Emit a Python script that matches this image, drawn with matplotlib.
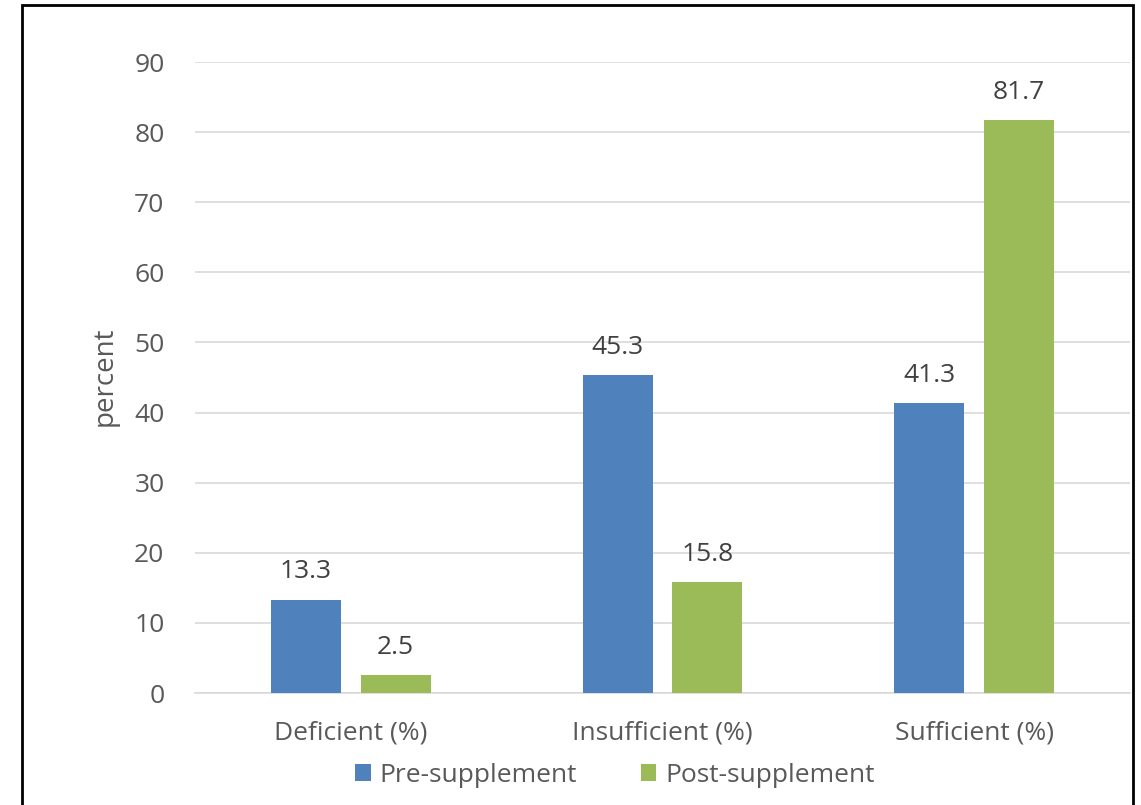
import numpy as np
import matplotlib.pyplot as plt
from matplotlib.patches import Rectangle

# Vitamin D status before and after supplementation
categories = ['Deficient (%)', 'Insufficient (%)', 'Sufficient (%)']
pre_supplement = [13.3, 45.3, 41.3]
post_supplement = [2.5, 15.8, 81.7]
series_names = ['Pre-supplement', 'Post-supplement']

blue = '#4f81bd'
green = '#9bbb59'
text_grey = '#595959'
fs = 19

plt.rcParams['font.family'] = ['Open Sans', 'DejaVu Sans']

fig = plt.figure(figsize=(11.41, 8.05), dpi=100)
ax = fig.add_axes([195 / 1141, 1 - 693 / 805, 935 / 1141, 631 / 805])

x = np.arange(len(categories))
width = 0.224
gap = 0.064
b1 = ax.bar(x - (width + gap) / 2, pre_supplement, width, color=blue, label=series_names[0], zorder=3)
b2 = ax.bar(x + (width + gap) / 2, post_supplement, width, color=green, label=series_names[1], zorder=3)

for bars, vals in [(b1, pre_supplement), (b2, post_supplement)]:
    for rect, v in zip(bars, vals):
        ax.text(rect.get_x() + rect.get_width() / 2, v + 2.2, f'{v}',
                ha='center', va='bottom', fontsize=fs, color='#404040')

ax.set_ylim(0, 90)
ax.set_xlim(-0.5, 2.5)
ax.set_yticks(range(0, 91, 10))
ax.set_xticks(x)
ax.set_xticklabels(categories)
ax.tick_params(axis='both', length=0, labelsize=fs, labelcolor=text_grey)
ax.tick_params(axis='y', pad=22)
ax.tick_params(axis='x', pad=20)
ax.grid(axis='y', color='#d9d9d9', linewidth=1.2, zorder=0)
for side in ['top', 'right', 'left']:
    ax.spines[side].set_visible(False)
ax.spines['bottom'].set_color('#d9d9d9')
ax.spines['bottom'].set_linewidth(1.2)

ax.set_ylabel('percent', fontsize=20, color=text_grey)
ax.yaxis.set_label_coords((119 - 195) / 935, (693 - 376) / 631)

ax.legend(loc='center', bbox_to_anchor=(615 / 1141, 1 - 775 / 805),
          bbox_transform=fig.transFigure, ncol=2, frameon=False,
          fontsize=fs, labelcolor=text_grey, handlelength=0.6, handleheight=0.6,
          handletextpad=0.35, columnspacing=2.4)

# outer frame around the chart
fig.patches.append(Rectangle((22 / 1141, -0.05), (1133 - 22) / 1141, 1.05 - 5 / 805,
                             transform=fig.transFigure, fill=False,
                             edgecolor='black', linewidth=2))

fig.savefig('out.png', dpi=100)
